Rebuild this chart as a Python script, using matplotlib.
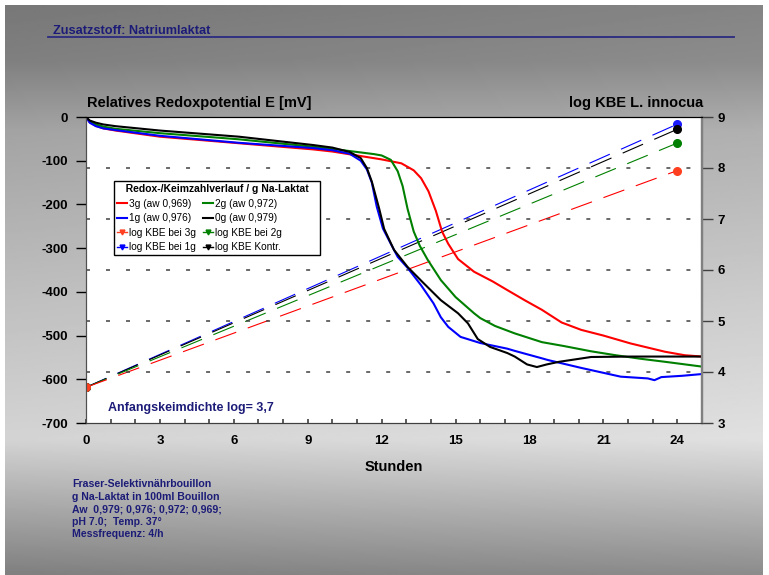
"""
Redoxpotential und log KBE (L. innocua) mit Natriumlaktat-Zusatz
"""
import numpy as np
import matplotlib
matplotlib.use("Agg")
import matplotlib.pyplot as plt
from matplotlib.lines import Line2D

plt.rcParams['font.family'] = ['Liberation Sans', 'DejaVu Sans']

W, H = 769, 575
navy = '#1c1c78'

# Redoxpotential (mV) ueber Stunden
t_3g = [0, 0.15, 0.4, 0.7, 1.2, 3, 6.2, 9.2, 10, 11, 12, 12.8, 13.3, 13.6, 13.9, 14.2, 14.45,
        14.7, 15.1, 15.75, 16.5, 17.1, 17.8, 18.5, 19.3, 20.1, 21, 22.1, 23.5, 24.3, 25]
e_3g = [0, -12, -20, -26, -31, -45, -60, -74, -79, -88, -97, -106, -122, -140, -170, -215, -262,
        -290, -325, -354, -376, -396, -419, -441, -470, -487, -500, -518, -537, -545, -548]

t_2g = [0, 0.15, 0.4, 0.7, 1.2, 3, 6.2, 9.2, 10, 11, 11.7, 12.0, 12.37, 12.65, 12.85, 13.05, 13.3,
        13.55, 13.87, 14.4, 15, 15.75, 16, 16.6, 17.4, 18.5, 19.4, 20.5, 21.5, 22.5, 23.5, 25]
e_2g = [0, -10, -17, -22, -27, -37, -51, -68, -73, -80, -85, -88, -98, -124, -158, -210, -262,
        -295, -327, -373, -412, -449, -460, -478, -495, -515, -524, -536, -545, -553, -560, -571]

t_1g = [0, 0.15, 0.4, 0.7, 1.2, 3, 6.2, 9.2, 10, 10.7, 11.15, 11.4, 11.6, 11.8, 12.05, 12.37, 12.65,
        13.05, 13.6, 14.1, 14.4, 14.7, 15.2, 16, 17.1, 17.4, 18.5, 18.75, 20.1, 21.7, 22.8, 23.07,
        23.35, 24.2, 25]
e_1g = [0, -13, -21, -26, -30, -43, -59, -71, -76, -84, -100, -120, -150, -205, -255, -290, -320,
        -345, -385, -426, -458, -480, -503, -517, -530, -535, -552, -556, -574, -594, -598, -602,
        -595, -592, -588]

t_0g = [0, 0.15, 0.4, 0.7, 1.2, 3, 6.2, 9.2, 10, 10.7, 11.15, 11.4, 11.6, 11.9, 12.1, 12.5, 13.05,
        13.7, 14.4, 15.1, 15.5, 15.9, 16.4, 17.1, 17.4, 17.9, 18.3, 18.7, 19.2, 20.5, 22.1, 25]
e_0g = [0, -8, -13, -17, -21, -31, -45, -64, -70, -80, -94, -117, -148, -210, -256, -304, -343,
        -380, -419, -449, -472, -508, -526, -540, -548, -566, -572, -566, -560, -549, -548, -548]

# log KBE L. innocua
t_kbe = [0, 24]
kbe_3g = [3.7, 7.95]
kbe_2g = [3.7, 8.49]
kbe_1g = [3.7, 8.86]
kbe_0g = [3.7, 8.76]

x_ticks = [0, 3, 6, 9, 12, 15, 18, 21, 24]
e_ticks = [0, -100, -200, -300, -400, -500, -600, -700]
kbe_ticks = [3, 4, 5, 6, 7, 8, 9]

fig = plt.figure(figsize=(W / 100, H / 100), dpi=100, facecolor='white')

# grauer Verlauf im Hintergrund
bg = fig.add_axes([5 / W, 0, 758 / W, 570 / H])
yy = np.linspace(5, 575, 300)
prof = np.interp(yy, [5, 60, 130, 300, 440, 500, 575], [0.47, 0.50, 0.64, 0.75, 0.83, 0.68, 0.50])
xx = np.linspace(0, 1, 300)
grad = prof[:, None] + 0.05 * xx[None, :]
bg.imshow(np.clip(grad, 0, 1), cmap='gray', vmin=0, vmax=1, aspect='auto')
bg.axis('off')

ax2 = fig.add_axes([86 / W, 1 - 423 / H, 616 / W, 306 / H])
ax = ax2.twinx()
ax.set_zorder(ax2.get_zorder() + 1)
ax.patch.set_visible(False)
ax2.set_facecolor('white')

# KBE (rechte Achse) auf ax2, das liegt hinten
ax2.yaxis.tick_right()
ax2.yaxis.set_label_position('right')
for vals, c, mc in [(kbe_1g, '#0000ff', '#1a1aff'), (kbe_0g, 'black', 'black'),
                    (kbe_2g, '#008000', '#008000'), (kbe_3g, '#ff0000', '#ff4020')]:
    ax2.plot(t_kbe, vals, color=c, lw=0.8, dashes=(20, 11))
    ax2.plot(t_kbe, vals, ls='none', marker='o', ms=5.5, color=mc)
ax2.set_ylim(3, 9)
ax2.set_xlim(0, 25)
ax2.set_yticks(kbe_ticks)
ax2.set_yticklabels([str(v) for v in kbe_ticks], fontsize=9.5, fontweight='bold')
ax2.tick_params(axis='y', direction='out', length=8, width=1, color='#404040', pad=3)
for v in kbe_ticks[1:-1]:
    ax2.axhline(v, color='#404040', lw=1.1, dashes=(2.6, 10.5))
ax2.set_xticks(x_ticks)
ax2.set_xticks(range(26), minor=True)
ax2.set_xticklabels([str(v) for v in x_ticks], fontsize=9.5, fontweight='bold')
ax2.tick_params(axis='x', which='both', direction='in', length=3, width=1.2, color='#404040', pad=9)
ax2.set_xlabel('Stunden', fontsize=10.5, fontweight='bold', labelpad=9)

# Redox (linke Achse)
ax.yaxis.tick_left()
ax.plot(t_3g, e_3g, color='#ff0000', lw=1.5)
ax.plot(t_2g, e_2g, color='#008000', lw=1.5)
ax.plot(t_1g, e_1g, color='#0000ff', lw=1.5)
ax.plot(t_0g, e_0g, color='black', lw=1.5)
ax.set_ylim(-700, 0)
ax.set_xlim(0, 25)
ax.set_yticks(e_ticks)
ax.set_yticklabels([str(v) for v in e_ticks], fontsize=9.5, fontweight='bold')
ax.tick_params(axis='y', direction='out', length=7, width=1, color='black', pad=6)

for a in (ax, ax2):
    a.spines['top'].set_color('black')
    a.spines['left'].set_color('#505050')
    a.spines['right'].set_color('#808080')
    a.spines['right'].set_linewidth(1.6)
    a.spines['bottom'].set_color('#404040')

handles = [
    Line2D([], [], color='#ff0000', lw=1.5),
    Line2D([], [], color='#0000ff', lw=1.5),
    Line2D([], [], color='#ff4020', lw=1, marker='v', ms=3.5),
    Line2D([], [], color='#0000ff', lw=1, marker='v', ms=3.5),
    Line2D([], [], color='#008000', lw=1.5),
    Line2D([], [], color='black', lw=1.5),
    Line2D([], [], color='#008000', lw=1, marker='v', ms=3.5),
    Line2D([], [], color='black', lw=1, marker='v', ms=3.5),
]
labels = ['3g (aw 0,969)', '1g (aw 0,976)', 'log KBE bei 3g', 'log KBE bei 1g',
          '2g (aw 0,972)', '0g (aw 0,979)', 'log KBE bei 2g', 'log KBE Kontr.']
leg = ax.legend(handles, labels, ncol=2, loc='upper left', bbox_to_anchor=(0.045, 0.791),
                borderaxespad=0, fontsize=7.3, frameon=True, fancybox=False,
                edgecolor='black', framealpha=1, handlelength=1.0, handletextpad=0.2,
                columnspacing=0.7, labelspacing=0.45, borderpad=0.3,
                title='   Redox-/Keimzahlverlauf / g Na-Laktat   ',
                title_fontproperties={'weight': 'bold', 'size': 7.5})
leg.get_frame().set_linewidth(1.0)
leg._legend_box.align = 'left'
leg.get_title().set_ha('left')

ax.text(0.035, 0.05, 'Anfangskeimdichte log= 3,7', transform=ax.transAxes, color=navy,
        fontsize=9, fontweight='bold', va='center')

fig.text(87 / W, 1 - 103 / H, 'Relatives Redoxpotential E [mV]', fontsize=10.5,
         fontweight='bold', va='center')
fig.text(703 / W, 1 - 103 / H, 'log KBE L. innocua', fontsize=10.5, fontweight='bold',
         va='center', ha='right')

fig.text(53 / W, 1 - 31 / H, 'Zusatzstoff: Natriumlaktat', fontsize=9.2, fontweight='bold',
         color=navy, va='center')
fig.add_artist(Line2D([48 / W, 734 / W], [1 - 36.5 / H, 1 - 36.5 / H], color='#2a2a80', lw=1.3))

notes = ['Fraser-Selektivnährbouillon', 'g Na-Laktat in 100ml Bouillon',
         'Aw  0,979; 0,976; 0,972; 0,969;', 'pH 7.0;  Temp. 37°', 'Messfrequenz: 4/h']
for i, s in enumerate(notes):
    fig.text(72 / W, 1 - (484 + i * 12.6) / H, s, fontsize=7.6, fontweight='bold',
             color=navy, va='center')

fig.savefig('out.png', dpi=100)
